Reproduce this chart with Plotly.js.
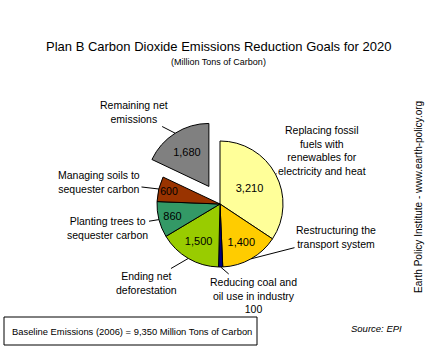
<!DOCTYPE html>
<html><head><meta charset="utf-8">
<script src="https://cdn.plot.ly/plotly-3.0.1.min.js"></script>
<style>html,body{margin:0;padding:0;background:#fff}#chart{width:442px;height:354px}</style>
</head><body><div id="chart"></div>
<script>
// ---- data ----
var categories = [
  "Replacing fossil<br>fuels with<br>renewables for<br>electricity and heat",
  "Restructuring the<br>transport system",
  "Reducing coal and<br>oil use in industry<br>100",
  "Ending net<br>deforestation",
  "Planting trees to<br>sequester carbon",
  "Managing soils to<br>sequester carbon",
  "Remaining net<br>emissions"
];
var values = [3210, 1400, 100, 1500, 860, 600, 1680];
var sliceColors = ["#FFFF99", "#FFCC00", "#000080", "#99CC00", "#339966", "#993300", "#808080"];
var pulls = [0, 0, 0, 0, 0, 0, 0.33];
var showInside = [true, true, false, true, true, true, true];
var baselineLabel = "Baseline Emissions (2006) = 9,350 Million Tons of Carbon";

// ---- layout geometry (pixels) ----
var W = 442, H = 354;
var cx = 220, cy = 204, r = 63;
var maxPull = Math.max.apply(null, pulls);
var half = r * (1 + maxPull);
var dom = {
  x: [(cx - half) / W, (cx + half) / W],
  y: [(H - cy - half) / H, (H - cy + half) / H]
};

// label text positions (pixel centres)
var labelPos = [
  [322, 150], [336, 237], [253, 295], [146, 283], [107, 228], [99, 182], [134, 112]
];

var FONT = "Arial, Liberation Sans, sans-serif";
var total = values.reduce(function(a, b){return a + b;}, 0);
var annotations = [];
var cum = 0;
values.forEach(function(v, i){
  var a0 = cum / total * 360, a1 = (cum + v) / total * 360;
  cum += v;
  var mid = (a0 + a1) / 2 * Math.PI / 180;
  var R = r * (1 + pulls[i]);
  var px = cx + R * Math.sin(mid), py = cy - R * Math.cos(mid);
  annotations.push({
    xref: "paper", yref: "paper", x: px / W, y: 1 - py / H,
    xanchor: "center", yanchor: "middle",
    text: categories[i], showarrow: true, arrowhead: 0, arrowwidth: 1, arrowcolor: "#000",
    ax: labelPos[i][0] - px, ay: labelPos[i][1] - py,
    font: {family: FONT, size: 10.5, color: "#000"},
    align: "center"
  });
});

function txt(x, y, text, size, extra) {
  var a = {xref: "paper", yref: "paper", x: x / W, y: 1 - y / H, showarrow: false,
    xanchor: "center", yanchor: "middle", text: text,
    font: {family: FONT, size: size, color: "#000"}};
  for (var k in extra) a[k] = extra[k];
  return a;
}

annotations.push(
  txt(218, 46, "Plan B Carbon Dioxide Emissions Reduction Goals for 2020", 13),
  txt(218, 62, "(Million Tons of Carbon)", 9),
  txt(132, 331, baselineLabel, 9.4),
  txt(376, 328, "<i>Source: EPI</i>", 9.5),
  txt(418, 197, "Earth Policy Institute - www.earth-policy.org", 10, {textangle: -90})
);

var trace = {
  type: "pie",
  values: values,
  labels: categories,
  marker: {colors: sliceColors, line: {color: "#000", width: 1}},
  pull: pulls,
  sort: false,
  direction: "clockwise",
  rotation: 0,
  texttemplate: showInside.map(function(s){ return s ? "%{value:,.0f}" : ""; }),
  textposition: "inside",
  insidetextorientation: "horizontal",
  textfont: {family: FONT, size: 11, color: "#000"},
  hoverinfo: "none",
  domain: dom,
  showlegend: false
};

var layout = {
  width: W, height: H,
  margin: {l: 0, r: 0, t: 0, b: 0},
  paper_bgcolor: "#fff",
  showlegend: false,
  annotations: annotations,
  shapes: [{type: "rect", xref: "paper", yref: "paper",
    x0: 4 / W, x1: 257 / W, y0: 1 - 345 / H, y1: 1 - 317 / H,
    line: {color: "#000", width: 1}}]
};

Plotly.newPlot("chart", [trace], layout, {staticPlot: true, displayModeBar: false});
</script></body></html>
